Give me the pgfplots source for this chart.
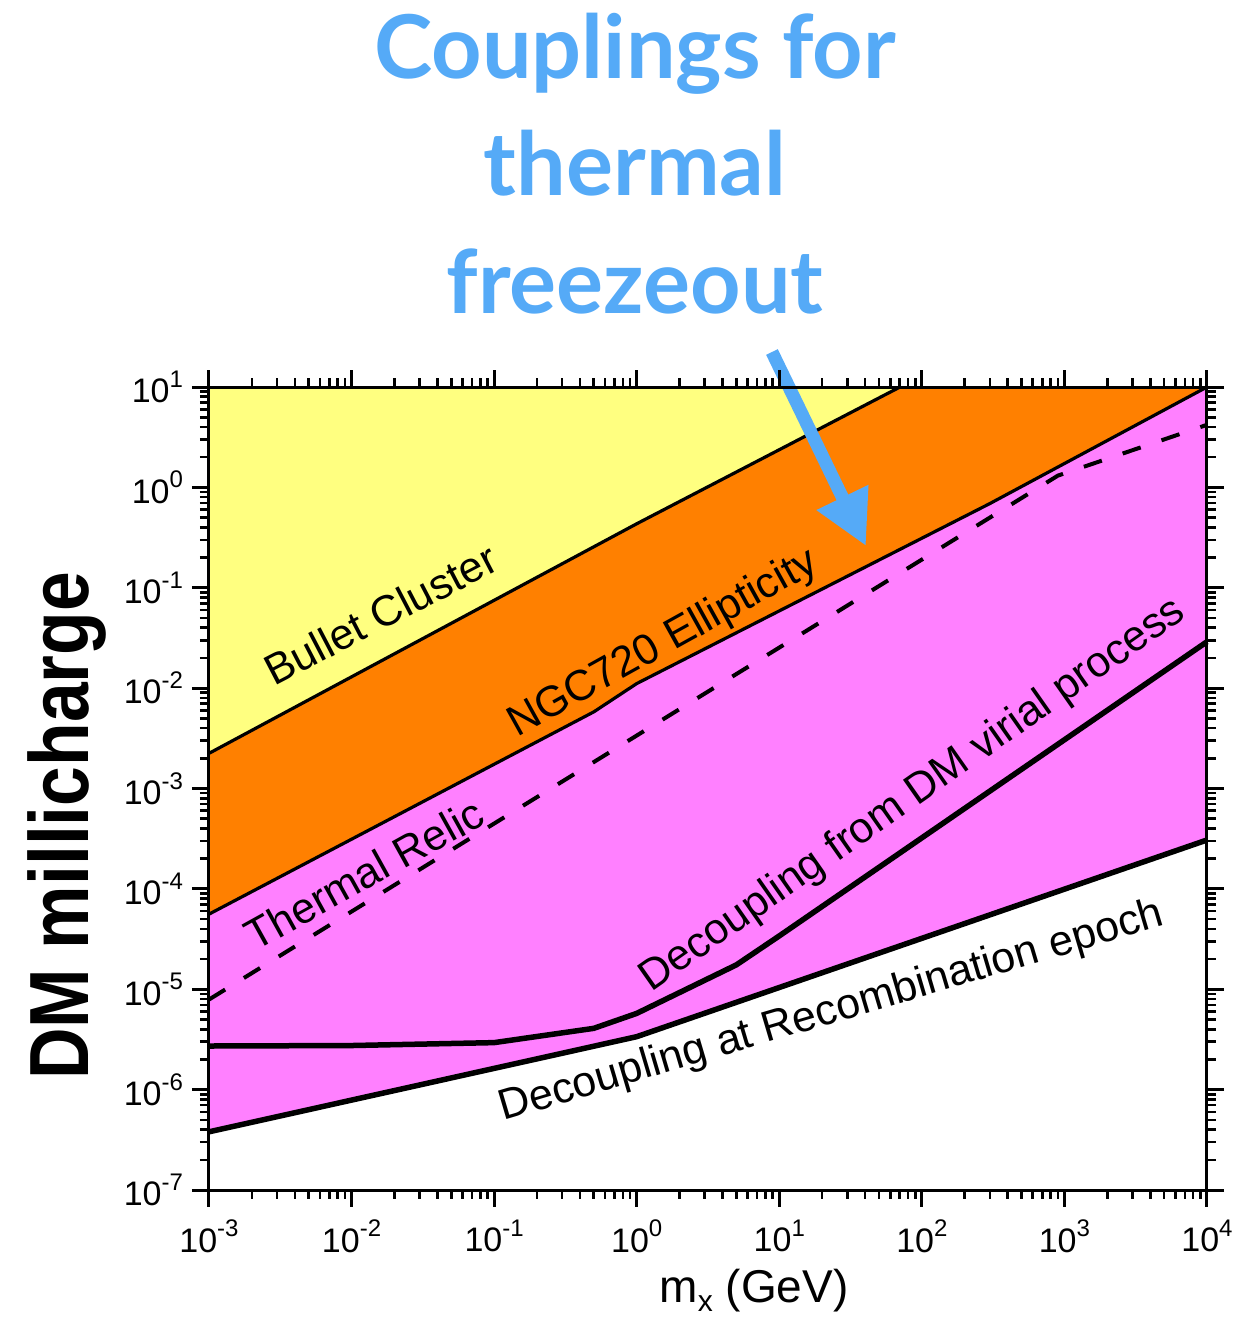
\documentclass[border=0pt]{standalone}
\usepackage{fontspec}
\setmainfont{Liberation Sans}
\newfontfamily\titlefont{Lato}
\usepackage{graphicx}
\usepackage{pgfplots}
\pgfplotsset{compat=1.18}
\usetikzlibrary{arrows.meta}

\definecolor{bulletyellow}{RGB}{255,255,128}
\definecolor{ngcorange}{RGB}{255,128,0}
\definecolor{relicpink}{RGB}{255,128,255}
\definecolor{noteblue}{RGB}{85,170,247}

% decade tick label: 10 with a small raised exponent
\newcommand{\dec}[1]{10\raisebox{0.45em}{\fontsize{12}{12}\selectfont#1}}

\begin{document}
\begin{tikzpicture}
\begin{axis}[
  scale only axis, width=499pt, height=401.5pt,
  xmode=log, ymode=log,
  xmin=1e-3, xmax=1e4, ymin=1e-7, ymax=10,
  axis on top, clip=false, no markers,
  axis line style={line width=1.5pt},
  tick align=outside,
  major tick length=8.5pt, minor tick length=4.5pt,
  major tick style={line width=1.5pt, black},
  minor tick style={line width=1.3pt, black},
  xtick={1e-3,1e-2,1e-1,1,10,100,1000,10000},
  xticklabels={\dec{-3},\dec{-2},\dec{-1},\dec{0},\dec{1},\dec{2},\dec{3},\dec{4}},
  ytick={1e-7,1e-6,1e-5,1e-4,1e-3,1e-2,1e-1,1,10},
  yticklabels={\dec{-7},\dec{-6},\dec{-5},\dec{-4},\dec{-3},\dec{-2},\dec{-1},\dec{0},\dec{1}},
  minor xtick={2e-3,3e-3,4e-3,5e-3,6e-3,7e-3,8e-3,9e-3,
    2e-2,3e-2,4e-2,5e-2,6e-2,7e-2,8e-2,9e-2,
    0.2,0.3,0.4,0.5,0.6,0.7,0.8,0.9,
    2,3,4,5,6,7,8,9,
    20,30,40,50,60,70,80,90,
    200,300,400,500,600,700,800,900,
    2000,3000,4000,5000,6000,7000,8000,9000},
  minor ytick={2e-7,3e-7,4e-7,5e-7,6e-7,7e-7,8e-7,9e-7,
    2e-6,3e-6,4e-6,5e-6,6e-6,7e-6,8e-6,9e-6,
    2e-5,3e-5,4e-5,5e-5,6e-5,7e-5,8e-5,9e-5,
    2e-4,3e-4,4e-4,5e-4,6e-4,7e-4,8e-4,9e-4,
    2e-3,3e-3,4e-3,5e-3,6e-3,7e-3,8e-3,9e-3,
    2e-2,3e-2,4e-2,5e-2,6e-2,7e-2,8e-2,9e-2,
    0.2,0.3,0.4,0.5,0.6,0.7,0.8,0.9,
    2,3,4,5,6,7,8,9},
  ticklabel style={font=\fontsize{17}{17}\selectfont},
  xticklabel style={yshift=-3pt},
  yticklabel style={xshift=-1pt},
]

% excluded by the Bullet Cluster
\addplot[fill=bulletyellow, draw=none] coordinates
  {(1e-3,10) (1e-3,2.24e-3) (1,0.434) (70.3,10)};
% excluded by the NGC720 ellipticity
\addplot[fill=ngcorange, draw=none] coordinates
  {(1e-3,2.24e-3) (1,0.434) (70.3,10) (1e4,10)
   (300,0.69) (1,0.0111) (0.5,5.8e-3) (1e-3,5.6e-5)};
% allowed band down to recombination decoupling
\addplot[fill=relicpink, draw=none] coordinates
  {(1e-3,5.6e-5) (0.5,5.8e-3) (1,0.0111) (300,0.69) (1e4,10)
   (1e4,3.07e-4) (1,3.37e-6) (1e-3,3.8e-7)};

% boundaries
\addplot[black, line width=1.6pt] coordinates
  {(1e-3,2.24e-3) (1,0.434) (70.3,10)};
\addplot[black, line width=1.6pt] coordinates
  {(1e-3,5.6e-5) (0.5,5.8e-3) (1,0.0111) (300,0.69) (1e4,10)};
\addplot[black, line width=2pt, dash pattern=on 9.5pt off 11pt] coordinates
  {(1e-3,7.9e-6) (900,1.31) (1e4,4.2)};
\addplot[black, line width=2.75pt] coordinates
  {(1e-3,2.72e-6) (0.01,2.75e-6) (0.1,2.94e-6) (0.5,4.08e-6) (1,5.75e-6)
   (5,1.75e-5) (10,3.4e-5) (1e4,0.029)};
\addplot[black, line width=2.75pt] coordinates
  {(1e-3,3.8e-7) (1,3.37e-6) (1e4,3.07e-4)};

% region labels
\begin{scope}[every node/.style={inner sep=0pt, font=\fontsize{21.5}{21.5}\selectfont}]
\node[anchor=base west, rotate=27.5] at (rel axis cs:0.0648,0.6262) {Bullet Cluster};
\node[anchor=base west, rotate=29] at (rel axis cs:0.3086,0.5629) {NGC720 Ellipticity};
\node[anchor=base west, rotate=29] at (rel axis cs:0.0461,0.2964) {Thermal Relic};
\node[anchor=base west, rotate=35] at (rel axis cs:0.4429,0.2453) {Decoupling from DM virial process};
\node[anchor=base west, rotate=16.5] at (rel axis cs:0.2946,0.0859) {Decoupling at Recombination epoch};
\end{scope}

% axis titles
\node[anchor=base, inner sep=0pt, font=\fontsize{23}{23}\selectfont]
  at (rel axis cs:0.5461,-0.1395)
  {m\raisebox{-0.2em}{\fontsize{15}{15}\selectfont x} (GeV)};
\node[anchor=base, rotate=90, inner sep=0pt, font=\bfseries\fontsize{42}{42}\selectfont]
  at (rel axis cs:-0.1212,0.4533) {\scalebox{0.85}[1]{DM millicharge}};

% headline and pointer
\begin{scope}[every node/.style={anchor=base, inner sep=0pt, text=noteblue,
    font=\titlefont\bfseries\fontsize{44}{44}\selectfont}]
\node[yshift=154.2pt] at (rel axis cs:0.4269,1) {Couplings for};
\node[yshift=95.65pt] at (rel axis cs:0.4269,1) {thermal};
\node[yshift=37pt] at (rel axis cs:0.4269,1) {freezeout};
\end{scope}
\draw[noteblue, line width=6.5pt, -{Triangle[length=27pt, width=27pt]}]
  (rel axis cs:0.5641,1.0436) -- (rel axis cs:0.6583,0.8020);

\coordinate (bl) at (rel axis cs:0,0);
\coordinate (tr) at (rel axis cs:1,1);
\end{axis}
\pgfresetboundingbox
\path[use as bounding box] ([xshift=-104.5pt,yshift=-64pt]bl) rectangle ([xshift=21pt,yshift=193.5pt]tr);
\end{tikzpicture}
\end{document}
